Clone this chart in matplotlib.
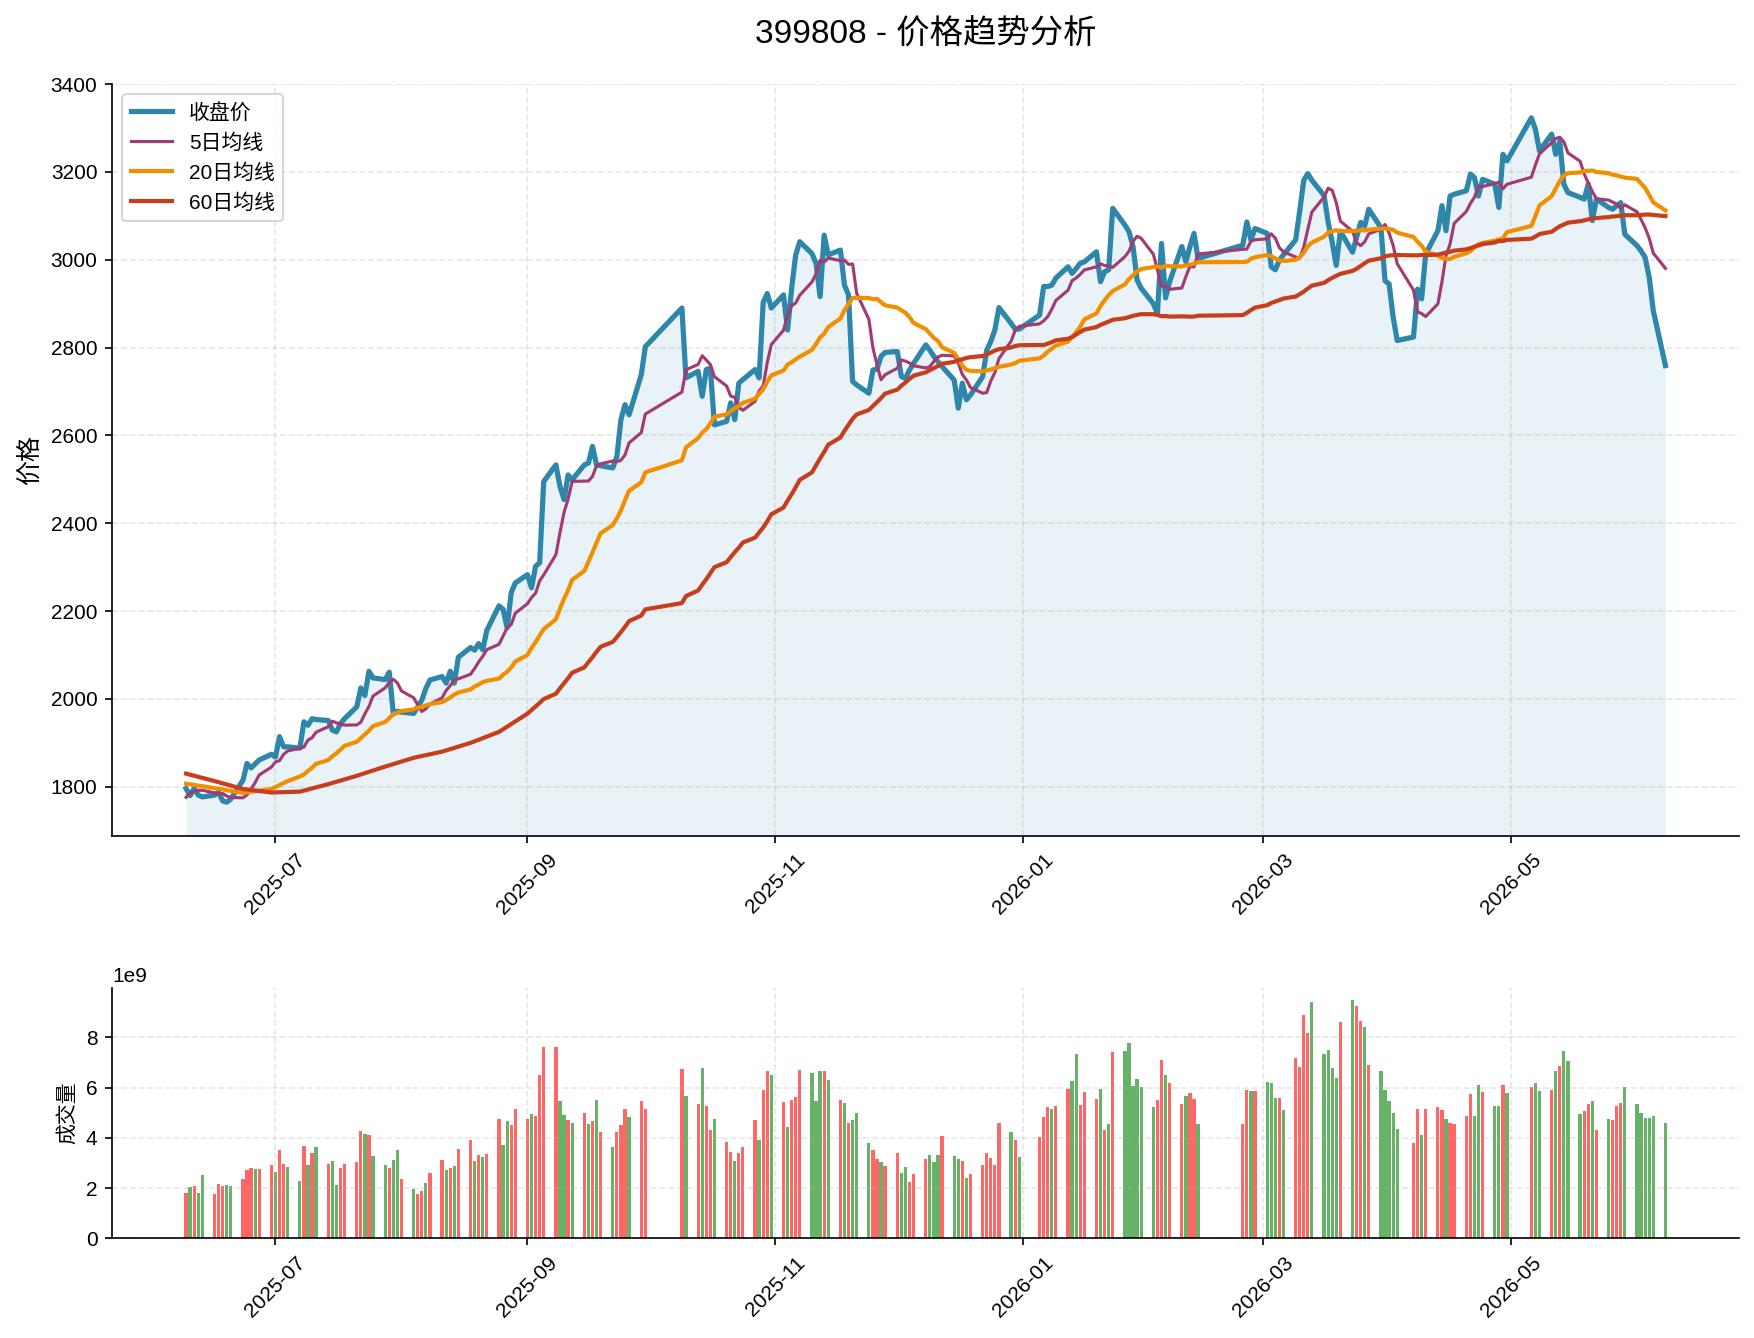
import matplotlib
matplotlib.use('Agg')
import matplotlib.pyplot as plt
import matplotlib.dates as mdates
import numpy as np
import pandas as pd

plt.rcParams['font.family'] = ['Liberation Sans', 'Noto Sans CJK SC', 'DejaVu Sans']
plt.rcParams['axes.unicode_minus'] = False

# ---------------- data ----------------
start_date = '2025-06-09'
end_date = '2026-06-08'
holidays = ['2025-10-01', '2025-10-02', '2025-10-03', '2025-10-06', '2025-10-07', '2025-10-08',
            '2026-01-01', '2026-01-02',
            '2026-02-16', '2026-02-17', '2026-02-18', '2026-02-19', '2026-02-20', '2026-02-23',
            '2026-04-06', '2026-05-01', '2026-05-04', '2026-05-05']

close = [
    1796, 1780, 1797, 1781, 1777,
    1781, 1788, 1768, 1765, 1772,
    1815, 1853, 1843, 1852, 1861,
    1874, 1868, 1914, 1891, 1891,
    1888, 1948, 1940, 1955, 1953,
    1951, 1929, 1925, 1944, 1955,
    1982, 2025, 2008, 2063, 2048,
    2044, 2061, 1966, 1972, 1970,
    1967, 1982, 1997, 2024, 2043,
    2051, 2036, 2063, 2036, 2095,
    2117, 2111, 2126, 2112, 2156,
    2212, 2204, 2162, 2242, 2264,
    2283, 2253, 2302, 2310, 2495,
    2533, 2484, 2454, 2510, 2499,
    2533, 2537, 2575, 2533, 2531,
    2526, 2552, 2636, 2670, 2647,
    2738, 2802,
    2890, 2731,
    2746, 2689, 2750, 2753, 2624,
    2632, 2674, 2636, 2719, 2727,
    2750, 2731, 2903, 2923, 2890,
    2920, 2840, 2935, 3011, 3041,
    3014, 2992, 2916, 3056, 3011,
    3022, 2942, 2920, 2723, 2715,
    2696, 2749, 2751, 2780, 2789,
    2791, 2734, 2730, 2749, 2764,
    2806, 2794, 2780, 2768, 2757,
    2726, 2662, 2719, 2681, 2692,
    2734, 2794, 2814, 2840, 2891,
    2855, 2842, 2842,
    2874, 2939, 2939, 2942, 2958,
    2984, 2969, 2980, 2992, 2995,
    3018, 2950, 2973, 2977, 3117,
    3079, 3064, 3030, 2954, 2935,
    2900, 2878, 3037, 2913, 2950,
    3030, 2995, 3030, 3060, 3003,
    3033, 3086, 3045, 3071,
    3060, 2984, 2977, 2999, 3011,
    3045, 3110, 3181, 3196, 3181,
    3146, 3086, 3040, 2987, 3065,
    3017, 3051, 3085, 3077, 3115,
    3073, 2952, 2945, 2869, 2816,
    2824, 2933, 2911, 3013,
    3066, 3123, 3066, 3145, 3149,
    3157, 3195, 3187, 3145, 3183,
    3172, 3119, 3240, 3225,
    3323, 3297, 3248,
    3286, 3240, 3270, 3172, 3153,
    3142, 3138, 3172, 3089, 3138,
    3119, 3115, 3123, 3130, 3058,
    3032, 3020, 3005, 2960, 2884,
    2759,
]

volume_e9 = [
    1.80, 2.04, 2.08, 1.80, 2.51,
    1.75, 2.15, 2.08, 2.11, 2.08,
    2.35, 2.71, 2.79, 2.75, 2.75,
    2.91, 2.63, 3.50, 2.94, 2.82,
    2.27, 3.66, 2.91, 3.38, 3.62,
    2.94, 3.06, 2.11, 2.79, 2.94,
    3.02, 4.29, 4.17, 4.13, 3.26,
    2.91, 2.79, 3.10, 3.50, 2.35,
    1.95, 1.75, 1.87, 2.19, 2.59,
    3.10, 2.71, 2.79, 2.86, 3.54,
    3.90, 3.06, 3.30, 3.22, 3.34,
    4.73, 3.70, 4.65, 4.53, 5.13,
    4.73, 4.93, 4.85, 6.51, 7.62,
    7.62, 5.48, 4.89, 4.69, 4.61,
    4.97, 4.57, 4.65, 5.52, 4.25,
    3.62, 4.25, 4.53, 5.16, 4.81,
    5.48, 5.13,
    6.75, 5.68,
    5.36, 6.79, 5.28, 4.33, 4.73,
    3.85, 3.42, 3.06, 3.38, 3.62,
    4.69, 3.90, 5.92, 6.67, 6.51,
    5.44, 4.45, 5.52, 5.64, 6.71,
    6.59, 5.48, 6.67, 6.67, 6.31,
    5.52, 5.40, 4.61, 4.69, 5.00,
    3.81, 3.50, 3.14, 3.02, 2.86,
    3.38, 2.59, 2.82, 2.23, 2.55,
    3.14, 3.30, 3.02, 3.30, 4.09,
    3.26, 3.14, 3.06, 2.39, 2.55,
    2.91, 3.38, 3.18, 2.91, 4.61,
    4.25, 3.90, 3.22,
    4.05, 4.81, 5.24, 5.16, 5.28,
    5.96, 6.28, 7.35, 5.32, 5.84,
    5.56, 5.96, 4.33, 4.57, 7.43,
    7.47, 7.78, 6.08, 6.36, 6.04,
    5.24, 5.52, 7.11, 6.51, 6.20,
    5.36, 5.68, 5.80, 5.56, 4.57,
    4.57, 5.92, 5.88, 5.88,
    6.24, 6.20, 5.60, 5.60, 5.09,
    7.19, 6.83, 8.89, 8.18, 9.41,
    7.35, 7.51, 6.79, 6.40, 8.62,
    9.49, 9.25, 8.66, 8.42, 6.91,
    6.67, 5.92, 5.48, 5.00, 4.37,
    3.81, 5.13, 4.13, 5.13,
    5.24, 5.09, 4.73, 4.61, 4.57,
    4.85, 5.76, 4.85, 6.12, 5.84,
    5.28, 5.28, 6.12, 5.80,
    6.04, 6.20, 5.88,
    5.92, 6.67, 6.87, 7.47, 7.07,
    4.93, 5.05, 5.36, 5.48, 4.33,
    4.73, 4.69, 5.28, 5.40, 6.04,
    5.36, 4.97, 4.77, 4.77, 4.85,
    4.61,
]

# r = up day (red), g = down day (green)
direction = ("rgrgg" "rrrgg" "rrrgr" "rgrrg" "grgrg" "rggrr" "rrgrg" "grggr"
             "grrgr" "rgrgr" "rgrgr" "rggrr" "rgrrr" "rggrg" "rgrgr" "grrrg" "rr"
             "rg" "rgrrg" "rrgrr" "rgrrg" "rgrrr" "gggrg" "rgrgg" "grrgr" "rggrr"
             "rgggr" "ggrgr" "rrrrr" "grg"
             "rrrgr" "rggrr" "rgrgr" "ggggg" "grrgr" "rgrrg" "rrgr"
             "gggrg" "rrrrg" "ggggr" "grrgr" "ggggg" "rrgr" "rrgrr" "rrggr" "ggrg"
             "rgg" "rgrgg" "grrgr" "grrrg" "ggggg" "g")

# moving-average values before a full window of prior closes exists
ma5_head = [1776, 1785, 1790, 1792, 1792]
ma20_head_dates = ['2025-06-09', '2025-06-16', '2025-06-23', '2025-06-30', '2025-07-04']
ma20_head = [1807, 1797, 1786, 1795, 1813]
ma60_head_dates = ['2025-06-09', '2025-06-16', '2025-06-23', '2025-06-30', '2025-07-07',
                   '2025-07-14', '2025-07-21', '2025-07-28', '2025-08-04', '2025-08-11',
                   '2025-08-18', '2025-08-25']
ma60_head = [1830, 1813, 1795, 1787, 1789, 1806, 1825, 1846, 1866, 1880, 1900, 1925]

title = '399808 - 价格趋势分析'
legend_labels = ['收盘价', '5日均线', '20日均线', '60日均线']
ylabel_price = '价格'
ylabel_vol = '成交量'

# ---------------- build ----------------
dates = pd.bdate_range(start_date, end_date).difference(pd.to_datetime(holidays))
s = pd.Series(close, index=dates, dtype=float)
vol = np.array(volume_e9) * 1e9

# averages of the preceding n sessions
ma5_calc = s.rolling(5).mean().shift(1)
ma20_calc = s.rolling(20).mean().shift(1)
ma60_calc = s.rolling(60).mean().shift(1)

ma5_x = list(dates[:5]) + list(dates[5:])
ma5_y = list(ma5_head) + list(ma5_calc.iloc[5:])
ma20_x = list(pd.to_datetime(ma20_head_dates)) + list(dates[20:])
ma20_y = list(ma20_head) + list(ma20_calc.iloc[20:])
ma60_x = list(pd.to_datetime(ma60_head_dates)) + list(dates[60:])
ma60_y = list(ma60_head) + list(ma60_calc.iloc[60:])

c_close = '#2E86AB'
c_ma5 = '#A23B72'
c_ma20 = '#F18F01'
c_ma60 = '#C73E1D'

fig = plt.figure(figsize=(1754 / 150, 1338 / 150), dpi=150)
ax1 = fig.add_axes([0.0639, 0.3752, 0.9278, 0.5620])
ax2 = fig.add_axes([0.0639, 0.0745, 0.9278, 0.1871])

ybottom, ytop = 1688, 3400
ax1.plot(dates, s.values, color=c_close, lw=2.5, label=legend_labels[0], zorder=3)
ax1.plot(ma5_x, ma5_y, color=c_ma5, lw=1.5, label=legend_labels[1], zorder=4)
ax1.plot(ma20_x, ma20_y, color=c_ma20, lw=2.0, label=legend_labels[2], zorder=4)
ax1.plot(ma60_x, ma60_y, color=c_ma60, lw=2.0, label=legend_labels[3], zorder=4)
ax1.fill_between(dates, s.values, ybottom, color=c_close, alpha=0.1, lw=0)
ax1.set_ylim(ybottom, ytop)
ax1.set_title(title, fontsize=16, pad=19.5)
ax1.set_ylabel(ylabel_price, fontsize=12)
ax1.legend(loc='upper left', fontsize=10)
ax1.grid(True, linestyle='--', alpha=0.3)

bar_colors = ['red' if c == 'r' else 'green' for c in direction]
ax2.bar(dates, vol, width=0.8, color=bar_colors, alpha=0.6)
ax2.set_ylabel(ylabel_vol, fontsize=10)
ax2.grid(True, linestyle='--', alpha=0.3)

xmin, xmax = ax1.get_xlim()
for ax in (ax1, ax2):
    ax.set_xlim(xmin, xmax)
    ax.spines['top'].set_visible(False)
    ax.spines['right'].set_visible(False)
    ax.xaxis.set_major_locator(mdates.MonthLocator(bymonth=[1, 3, 5, 7, 9, 11]))
    ax.xaxis.set_major_formatter(mdates.DateFormatter('%Y-%m'))
    plt.setp(ax.get_xticklabels(), rotation=45)

fig.savefig('out.png', dpi=150)
